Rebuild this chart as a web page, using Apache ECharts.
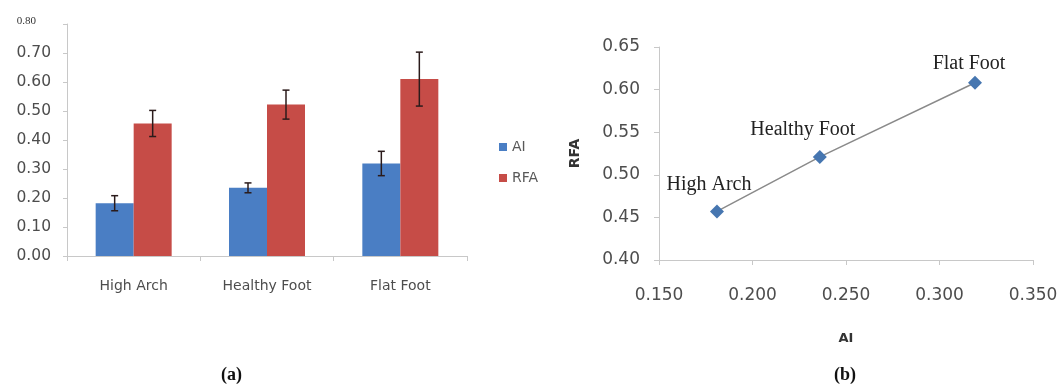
<!DOCTYPE html>
<html><head><meta charset="utf-8">
<script src="https://cdn.jsdelivr.net/npm/echarts@6/dist/echarts.min.js"></script>
<style>html,body{margin:0;padding:0;background:#fff}#c{width:1063px;height:390px}</style>
</head><body><div id="c"></div>
<script>
const categories = ['High Arch', 'Healthy Foot', 'Flat Foot'];
const aiMean = [0.182, 0.235, 0.319];
const rfaMean = [0.457, 0.522, 0.610];
const aiErr = [0.026, 0.017, 0.042];
const rfaErr = [0.045, 0.050, 0.093];
const barTicksY = [0, 0.1, 0.2, 0.3, 0.4, 0.5, 0.6, 0.7, 0.8];
const scatterX = [0.181, 0.236, 0.319];
const scatterY = [0.457, 0.521, 0.608];
const pointLabels = ['High Arch', 'Healthy Foot', 'Flat Foot'];

const BLUE = '#4a7ec4', RED = '#c64c47';
const chart = echarts.init(document.getElementById('c'));

const errData = [];
categories.forEach((c, i) => {
  errData.push([i, aiMean[i], aiErr[i], -1]);
  errData.push([i, rfaMean[i], rfaErr[i], 1]);
});

chart.setOption({
  animation: false,
  legend: {
    data: ['AI', 'RFA'], orient: 'vertical', left: 494, top: 135,
    itemWidth: 8, itemHeight: 8, itemGap: 17, icon: 'rect',
    textStyle: { color: '#595959', fontSize: 14, fontFamily: 'DejaVu Sans' }
  },
  grid: [
    { left: 67, width: 400, top: 24, height: 232 },
    { left: 659, right: 30, top: 47, bottom: 130 }
  ],
  xAxis: [
    {
      gridIndex: 0, type: 'category', data: categories,
      axisLine: { lineStyle: { color: '#c8c8c8' } },
      axisTick: { show: true, length: 5, lineStyle: { color: '#c8c8c8' } },
      axisLabel: { color: '#4d4d4d', fontSize: 14, fontFamily: 'DejaVu Sans', margin: 23 }
    },
    {
      gridIndex: 1, type: 'value', min: 0.15, max: 0.35, interval: 0.05,
      name: 'AI', nameLocation: 'middle', nameGap: 72,
      nameTextStyle: { fontWeight: 'bold', fontSize: 13, color: '#333', fontFamily: 'DejaVu Sans' },
      splitLine: { show: false },
      axisLine: { show: true, lineStyle: { color: '#c8c8c8' } },
      axisTick: { show: true, length: 5, lineStyle: { color: '#c8c8c8' } },
      axisLabel: { color: '#4d4d4d', fontSize: 17, fontFamily: 'DejaVu Sans', margin: 27,
        formatter: v => v.toFixed(3) }
    }
  ],
  yAxis: [
    {
      gridIndex: 0, type: 'value', min: 0, max: 0.8, interval: 0.1,
      splitLine: { show: false },
      axisLine: { show: true, lineStyle: { color: '#c8c8c8' } },
      axisTick: { show: true, length: 4, lineStyle: { color: '#c8c8c8' } },
      axisLabel: {
        color: '#4d4d4d', fontSize: 15.5, fontFamily: 'DejaVu Sans', margin: 16,
        formatter: v => (Math.abs(v - barTicksY[barTicksY.length - 1]) < 1e-9) ? '{t|' + v.toFixed(2) + '}' : v.toFixed(2),
        rich: { t: { fontFamily: 'Liberation Serif', fontSize: 11, color: '#333', padding: [0, 15, 6, 0] } }
      }
    },
    {
      gridIndex: 1, type: 'value', min: 0.4, max: 0.65, interval: 0.05,
      name: 'RFA', nameLocation: 'middle', nameGap: 77,
      nameTextStyle: { fontWeight: 'bold', fontSize: 14, color: '#333', fontFamily: 'DejaVu Sans' },
      splitLine: { show: false },
      axisLine: { show: true, lineStyle: { color: '#c8c8c8' } },
      axisTick: { show: true, length: 5, lineStyle: { color: '#c8c8c8' } },
      axisLabel: { color: '#4d4d4d', fontSize: 17, fontFamily: 'DejaVu Sans', margin: 19,
        formatter: v => v.toFixed(2) }
    }
  ],
  series: [
    { name: 'AI', type: 'bar', xAxisIndex: 0, yAxisIndex: 0, data: aiMean,
      barWidth: 38, barGap: '0%', itemStyle: { color: BLUE } },
    { name: 'RFA', type: 'bar', xAxisIndex: 0, yAxisIndex: 0, data: rfaMean,
      barWidth: 38, barGap: '0%', itemStyle: { color: RED } },
    {
      type: 'custom', xAxisIndex: 0, yAxisIndex: 0, data: errData, z: 10,
      renderItem: (params, api) => {
        const i = api.value(0), m = api.value(1), e = api.value(2), side = api.value(3);
        const off = side * 19;
        const top = api.coord([i, m + e]);
        const bot = api.coord([i, m - e]);
        const x = top[0] + off;
        const cap = 3.5;
        const st = { stroke: '#2b1b1b', lineWidth: 1.5 };
        return { type: 'group', children: [
          { type: 'line', shape: { x1: x, y1: top[1], x2: x, y2: bot[1] }, style: st },
          { type: 'line', shape: { x1: x - cap, y1: top[1], x2: x + cap, y2: top[1] }, style: st },
          { type: 'line', shape: { x1: x - cap, y1: bot[1], x2: x + cap, y2: bot[1] }, style: st }
        ]};
      }
    },
    {
      type: 'line', xAxisIndex: 1, yAxisIndex: 1,
      data: scatterX.map((x, i) => ({
        value: [x, scatterY[i]],
        label: { offset: i === 0 ? [-8, -2] : (i === 1 ? [-17, -2] : [-6, 6]) }
      })),
      symbol: 'diamond', symbolSize: 14,
      lineStyle: { color: '#8a8a8a', width: 1.5 },
      itemStyle: { color: '#4676b0' },
      label: {
        show: true, position: 'top', distance: 8,
        formatter: p => pointLabels[p.dataIndex],
        fontFamily: 'Liberation Serif', fontSize: 20, color: '#222'
      }
    }
  ],
  graphic: [
    { type: 'text', left: 221, top: 366, style: { text: '(a)', font: 'bold 18px "Liberation Serif"', fill: '#111' } },
    { type: 'text', left: 834, top: 366, style: { text: '(b)', font: 'bold 18px "Liberation Serif"', fill: '#111' } }
  ]
});
</script></body></html>
